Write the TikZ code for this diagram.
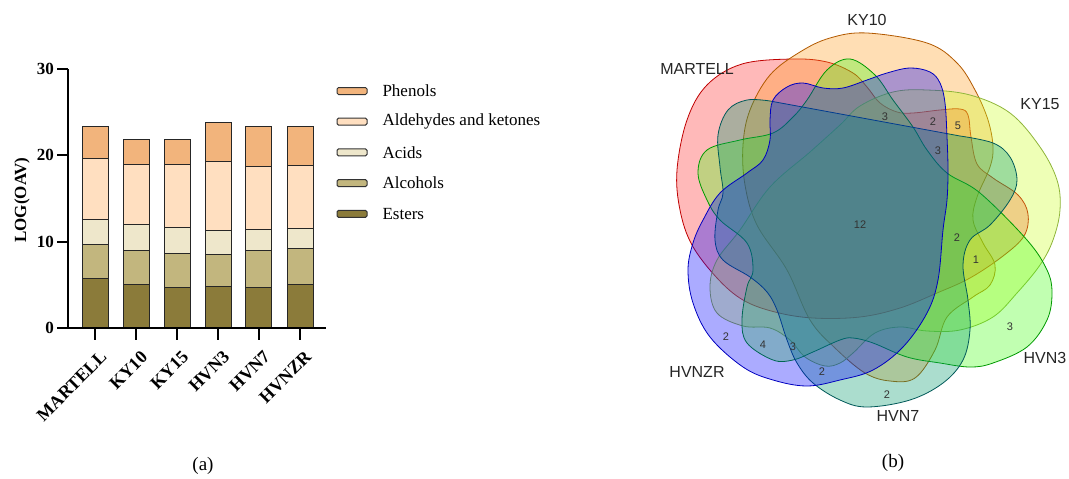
\documentclass[tikz,border=0pt]{standalone}
\usepackage{fontspec}
\setmainfont{Liberation Serif}
\setsansfont{Liberation Sans}
\usepackage{xcolor}
\definecolor{esters}{HTML}{8B7B3A}
\definecolor{alcohols}{HTML}{C2B67E}
\definecolor{acids}{HTML}{EEE7CB}
\definecolor{aldehydes}{HTML}{FFDFC0}
\definecolor{phenols}{HTML}{F2B47C}
\definecolor{martellC}{HTML}{FF2A2A}
\definecolor{ky10C}{HTML}{FF9A1A}
\definecolor{ky15C}{HTML}{CCFF22}
\definecolor{hvn3C}{HTML}{44FF11}
\definecolor{hvn7C}{HTML}{00996A}
\definecolor{hvnzrC}{HTML}{0000FF}
\tikzset{barbox/.style={draw=black!85,line width=0.9pt,fill=#1}}
\tikzset{legbox/.style={draw=black!80,line width=1pt,rounded corners=1.5pt,fill=#1}}
\tikzset{axisline/.style={draw,line width=2pt}}
\tikzset{vset/.style 2 args={draw=#1,line width=0.8pt,fill=#2,fill opacity=0.33}}
\tikzset{setname/.style={font={\sffamily\fontsize{16pt}{16}\selectfont},text=black!85}}
\tikzset{count/.style={font={\sffamily\fontsize{11pt}{11}\selectfont},text=black!80}}

\begin{document}
\begin{tikzpicture}[x=1pt,y=-1pt,font={\fontsize{17pt}{17}\selectfont}]
    \useasboundingbox (0,0) rectangle (1069,479);
    \begin{scope}[shift={(0pt,-328pt)},y=8.63pt]
        \foreach \i/\x/\a/\b/\c/\d/\e/\n in {1/95.3/5.75/9.73/12.55/19.7/23.3/MARTELL, 2/136/5.1/9.03/12.0/18.96/21.85/KY10, 3/177/4.67/8.6/11.7/18.96/21.9/KY15, 4/218/4.79/8.53/11.27/19.27/23.8/HVN3, 5/258.7/4.67/9.0/11.4/18.7/23.3/HVN7, 6/300/5.0/9.2/11.5/18.8/23.3/HVNZR}{
            \draw[barbox=esters] (\x-13,0) rectangle (\x+13,\a);
            \draw[barbox=alcohols] (\x-13,\a) rectangle (\x+13,\b);
            \draw[barbox=acids] (\x-13,\b) rectangle (\x+13,\c);
            \draw[barbox=aldehydes] (\x-13,\c) rectangle (\x+13,\d);
            \draw[barbox=phenols] (\x-13,\d) rectangle (\x+13,\e);
            \draw[axisline] (\x,0) -- (\x,-1.4);
            \node[rotate=45,anchor=north east,inner sep=0pt,font={\bfseries\fontsize{18pt}{18}\selectfont}] (bn\i) at (\x+4,-2.5) {\n};
        }
        \draw[axisline] (57,0) -- (326,0);
        \draw[axisline] (68,0) -- (68,30);
        \foreach \v in {0,10,20,30}{
            \draw[axisline] (57,\v) -- (68,\v);
            \node[anchor=east,inner sep=1pt,font={\bfseries\fontsize{17pt}{17}\selectfont}] (yt\v) at (55,\v) {\v};
        }
        \node[rotate=90,font={\bfseries\fontsize{17pt}{17}\selectfont}] (ylab) at (22,14.8) {LOG(OAV)};
    \end{scope}
    \foreach \i/\c/\t in {0/phenols/Phenols, 1/aldehydes/Aldehydes and ketones, 2/acids/Acids, 3/alcohols/Alcohols, 4/esters/Esters}{
        \draw[legbox=\c] (337,{91+30.7*\i-3.5}) rectangle (367,{91+30.7*\i+3.5});
        \node[anchor=west] (lg\i) at (379,{91+30.7*\i}) {\t};
    }
    \node[font={\fontsize{19pt}{19}\selectfont}] (pa) at (203,466) {(a)};

    \draw[vset={red!75!black}{martellC}] plot[smooth cycle,tension=0.6] coordinates {(793,59) (827,62) (853,73) (867,87) (880,103) (897,112) (913,113) (940,110) (960,109) (968,115) (971,137) (977,164) (993,178) (1018,195) (1028,214) (1024,236) (1003,256) (970,278) (937,293) (900,308) (860,317) (813,318) (775,312) (743,300) (717,278) (692,245) (680,210) (677,170) (687,120) (707,85) (742,64)};
    \draw[vset={orange!70!black}{ky10C}] plot[smooth cycle,tension=0.6] coordinates {(867,33) (927,43) (957,63) (975,90) (988,120) (993,147) (990,167) (977,197) (973,220) (983,243) (995,265) (990,285) (973,297) (947,317) (935,350) (915,378) (890,381) (865,373) (835,348) (810,320) (787,270) (757,225) (745,185) (743,145) (750,110) (770,75) (800,52) (830,38)};
    \draw[vset={yellow!60!green!80!black}{ky15C}] plot[smooth cycle,tension=0.6] coordinates {(860,106) (893,92) (927,90) (970,95) (1010,113) (1040,147) (1057,180) (1060,210) (1053,240) (1040,265) (1017,293) (993,317) (960,330) (927,331) (900,327) (875,333) (853,353) (840,363) (825,366) (805,357) (790,340) (770,328) (743,326) (717,313) (710,287) (717,260) (740,230) (770,187) (810,152) (840,125)};
    \draw[vset={green!60!black}{hvn3C}] plot[smooth cycle,tension=0.6] coordinates {(850,59) (875,75) (893,100) (913,127) (927,150) (947,173) (980,193) (1027,240) (1047,270) (1052,293) (1047,320) (1027,347) (993,363) (970,367) (940,363) (907,357) (873,343) (853,338) (840,340) (813,352) (793,360) (773,360) (747,343) (742,320) (747,287) (753,270) (747,243) (720,220) (707,200) (698,173) (707,150) (740,140) (773,133) (793,117) (807,100) (827,70)};
    \draw[vset={teal!70!black}{hvn7C}] (770,101) -- (960,136) -- plot[smooth,tension=0.6] coordinates {(960,136) (993,143) (1010,157) (1017,180) (1010,200) (990,225) (970,240) (963,265) (968,300) (970,330) (963,360) (943,383) (910,400) (867,407) (840,400) (813,383) (797,363) (787,340) (777,310) (767,292) (750,277) (723,260) (715,240) (718,210) (723,193) (720,167) (718,135) (728,110) (747,100) (770,101)} -- cycle;
    \draw[vset={blue!75!black}{hvnzrC}] plot[smooth cycle,tension=0.6] coordinates {(787,87) (803,83) (823,88) (843,88) (867,80) (887,73) (910,68) (930,72) (940,83) (945,103) (947,137) (948,170) (947,200) (943,230) (938,280) (927,313) (903,347) (873,370) (840,380) (807,386) (773,380) (743,367) (710,337) (693,303) (688,270) (693,243) (703,220) (720,193) (747,173) (763,160) (770,140) (770,120) (773,100)};

    \foreach \i/\x/\y/\t in {0/867/20/KY10, 1/697/69/MARTELL, 2/1040/104/KY15, 3/1045/358/HVN3, 4/898/416/HVN7, 5/697/372/HVNZR}
        \node[setname] (set\i) at (\x,\y) {\t};
    \foreach \i/\x/\y/\t in {0/885/117/3, 1/933/122/2, 2/958/126/5, 3/938/151/3, 4/860/225/12, 5/957/238/2, 6/976/260/1, 7/1010/327/3, 8/726/337/2, 9/763/345/4, 10/793/347/3, 11/822/372/2, 12/887/395/2}
        \node[count] (cnt\i) at (\x,\y) {\t};
    \node[font={\fontsize{19pt}{19}\selectfont}] (pb) at (893,463) {(b)};
\end{tikzpicture}
\end{document}
